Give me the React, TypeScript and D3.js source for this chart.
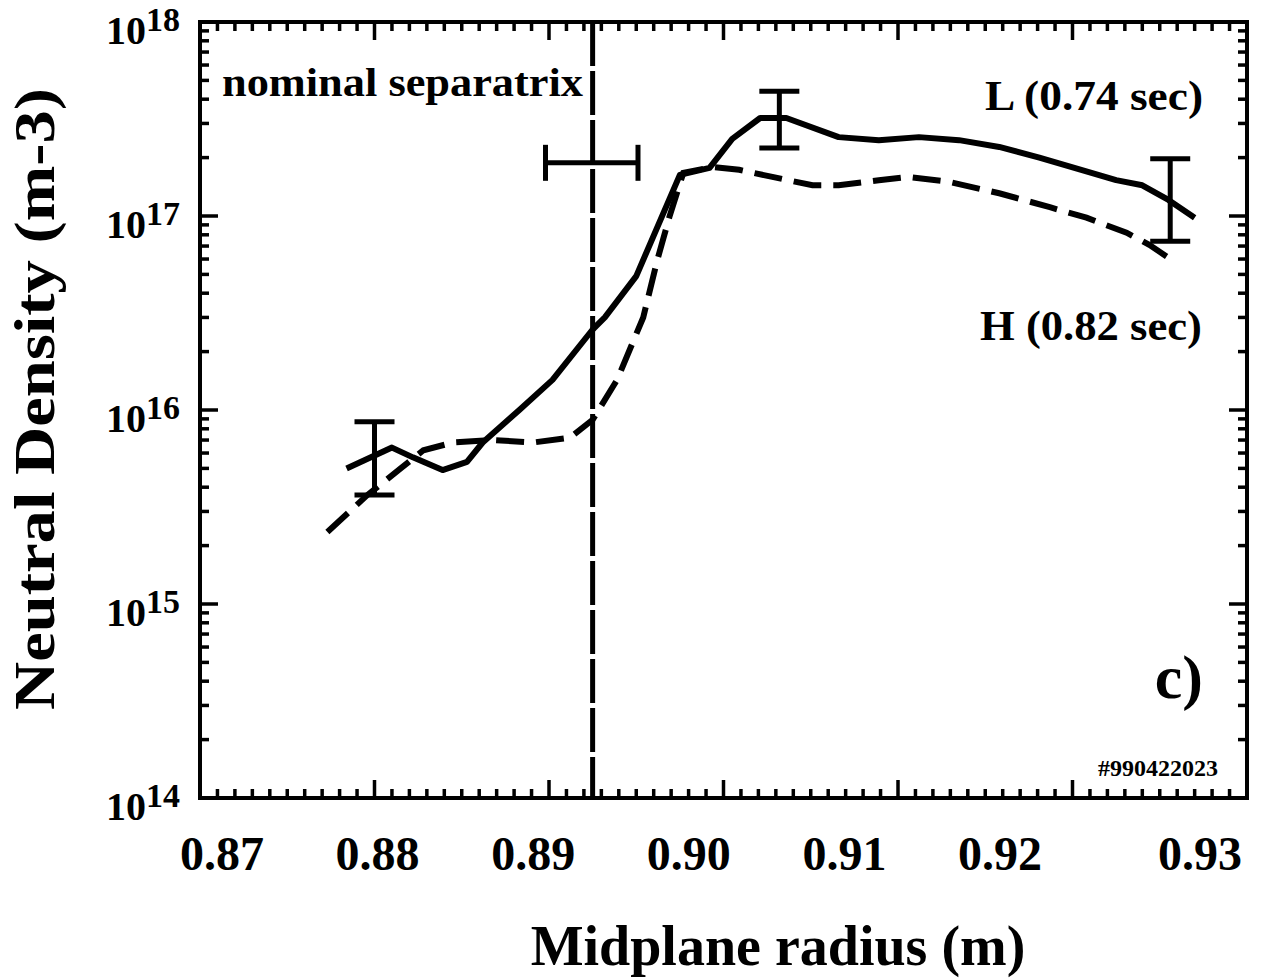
import React from 'react';
import * as d3 from 'd3';

// L-mode (0.74 sec), solid curve
const radiusL = [0.8784, 0.881, 0.8822, 0.8839, 0.8853, 0.8862, 0.8883, 0.8902, 0.8925, 0.8932, 0.895, 0.8975, 0.8992, 0.9005, 0.9021, 0.9036, 0.9066, 0.9089, 0.9112, 0.9135, 0.9158, 0.9181, 0.9205, 0.9225, 0.924, 0.9255, 0.927];
const densityL = [5.0e15, 6.4e15, 5.7e15, 4.9e15, 5.4e15, 6.8e15, 1.0e16, 1.43e16, 2.6e16, 3.0e16, 4.9e16, 1.63e17, 1.77e17, 2.5e17, 3.2e17, 3.2e17, 2.55e17, 2.46e17, 2.55e17, 2.46e17, 2.27e17, 2.0e17, 1.73e17, 1.53e17, 1.44e17, 1.21e17, 9.8e16];

// H-mode (0.82 sec), dashed curve
const radiusH = [0.8773, 0.8796, 0.8815, 0.8828, 0.8845, 0.8868, 0.8891, 0.8912, 0.8925, 0.8939, 0.8954, 0.8962, 0.8969, 0.8977, 0.8994, 0.9009, 0.9028, 0.9051, 0.9066, 0.9089, 0.9106, 0.9129, 0.9158, 0.9187, 0.9208, 0.9231, 0.9244, 0.9255];
const densityH = [2.35e15, 3.65e15, 5.0e15, 6.2e15, 6.8e15, 7.0e15, 6.8e15, 7.2e15, 8.9e15, 1.43e16, 3.0e16, 5.9e16, 9.9e16, 1.67e17, 1.79e17, 1.73e17, 1.59e17, 1.44e17, 1.44e17, 1.53e17, 1.59e17, 1.5e17, 1.31e17, 1.11e17, 9.8e16, 8.2e16, 7.1e16, 6.1e16];

// vertical error bars
const errRadius = [0.88, 0.9032, 0.9256];
const errLow = [3.65e15, 2.24e17, 7.4e16];
const errHigh = [8.7e15, 4.4e17, 1.97e17];

// separatrix position and its uncertainty
const sepRadius = 0.8925;
const sepRange = [0.8898, 0.8951];
const sepDensity = 1.88e17;

const xTickLabels = ['0.87', '0.88', '0.89', '0.90', '0.91', '0.92', '0.93'];
const yExponents = [14, 15, 16, 17, 18];

const serif = '"Liberation Serif", "Times New Roman", serif';

export default function App() {
  const left = 200, right = 1247, top = 22, bottom = 798;

  const x = d3.scaleLinear().domain([0.87, 0.93]).range([left, right]);
  const y = d3.scaleLog().domain([1e14, 1e18]).range([bottom, top]);
  // the printed labels sit a bit off the ticks in the original
  const xLabel = d3.scaleLinear().domain([0.87, 0.92, 0.93]).range([222, 1000, 1200]);

  const line = d3.line<[number, number]>()
    .x(d => x(d[0]))
    .y(d => y(d[1]));

  const pathL = line(radiusL.map((r, i) => [r, densityL[i]]))!;
  const pathH = line(radiusH.map((r, i) => [r, densityH[i]]))!;

  const xTicks = d3.range(0, 61).map(i => ({ v: 0.87 + i * 0.001, major: i % 10 === 0 }));
  const yTicks: { v: number; major: boolean }[] = [];
  for (let e = 14; e <= 18; e++) {
    yTicks.push({ v: Math.pow(10, e), major: true });
    if (e < 18) for (let k = 2; k <= 9; k++) yTicks.push({ v: k * Math.pow(10, e), major: false });
  }

  const majorLen = 18, minorLen = 9;

  return (
    <svg width={1265} height={980} style={{ position: 'absolute', left: 0, top: 0, background: '#fff' }}>
      <rect x={0} y={0} width={1265} height={980} fill="#fff" />
      <g stroke="#000" strokeWidth={3.5}>
        {xTicks.map((t, i) => {
          const len = t.major ? majorLen : minorLen;
          const px = x(t.v);
          return (
            <g key={'xt' + i}>
              <line x1={px} x2={px} y1={bottom} y2={bottom - len} />
              <line x1={px} x2={px} y1={top} y2={top + len} />
            </g>
          );
        })}
        {yTicks.map((t, i) => {
          const len = t.major ? majorLen : minorLen;
          const py = y(t.v);
          return (
            <g key={'yt' + i}>
              <line x1={left} x2={left + len} y1={py} y2={py} />
              <line x1={right} x2={right - len} y1={py} y2={py} />
            </g>
          );
        })}
      </g>
      <rect x={left} y={top} width={right - left} height={bottom - top} fill="none" stroke="#000" strokeWidth={4} />

      {/* separatrix */}
      <line x1={x(sepRadius)} x2={x(sepRadius)} y1={top} y2={bottom} stroke="#000" strokeWidth={5} strokeDasharray="44 5" />
      <g stroke="#000" strokeWidth={5}>
        <line x1={x(sepRange[0])} x2={x(sepRange[1])} y1={y(sepDensity)} y2={y(sepDensity)} />
        <line x1={x(sepRange[0])} x2={x(sepRange[0])} y1={y(sepDensity) - 18} y2={y(sepDensity) + 18} />
        <line x1={x(sepRange[1])} x2={x(sepRange[1])} y1={y(sepDensity) - 18} y2={y(sepDensity) + 18} />
      </g>

      {/* curves */}
      <path d={pathL} fill="none" stroke="#000" strokeWidth={6} strokeLinejoin="round" />
      <path d={pathH} fill="none" stroke="#000" strokeWidth={6} strokeDasharray="28 12" />

      {/* error bars */}
      <g stroke="#000" strokeWidth={5}>
        {errRadius.map((r, i) => (
          <g key={'eb' + i}>
            <line x1={x(r)} x2={x(r)} y1={y(errLow[i])} y2={y(errHigh[i])} />
            <line x1={x(r) - 20} x2={x(r) + 20} y1={y(errLow[i])} y2={y(errLow[i])} />
            <line x1={x(r) - 20} x2={x(r) + 20} y1={y(errHigh[i])} y2={y(errHigh[i])} />
          </g>
        ))}
      </g>

      {/* tick labels */}
      <g fontFamily={serif} fontWeight="bold" fill="#000">
        {xTickLabels.map(s => (
          <text key={s} x={xLabel(+s)} y={870} fontSize={48} textAnchor="middle">{s}</text>
        ))}
        {yExponents.map(e => (
          <text key={e} x={180} y={y(Math.pow(10, e)) + 22} fontSize={40} textAnchor="end">
            10<tspan dy={-13} fontSize={34}>{e}</tspan>
          </text>
        ))}
      </g>

      {/* annotations */}
      <g fontFamily={serif} fontWeight="bold" fill="#000">
        <text x={222} y={96} fontSize={40} textLength={361} lengthAdjust="spacingAndGlyphs">nominal separatrix</text>
        <text x={1203} y={110} fontSize={42} textAnchor="end" textLength={218} lengthAdjust="spacingAndGlyphs">L (0.74 sec)</text>
        <text x={1202} y={340} fontSize={42} textAnchor="end" textLength={222} lengthAdjust="spacingAndGlyphs">H (0.82 sec)</text>
        <text x={1203} y={698} fontSize={62} textAnchor="end">c)</text>
        <text x={1218} y={776} fontSize={24} textAnchor="end">#990422023</text>
        <text x={778} y={965} fontSize={56} textAnchor="middle">Midplane radius (m)</text>
        <text transform="translate(54,399) rotate(-90)" fontSize={58} textAnchor="middle" textLength={622} lengthAdjust="spacingAndGlyphs">Neutral Density (m-3)</text>
      </g>
    </svg>
  );
}
